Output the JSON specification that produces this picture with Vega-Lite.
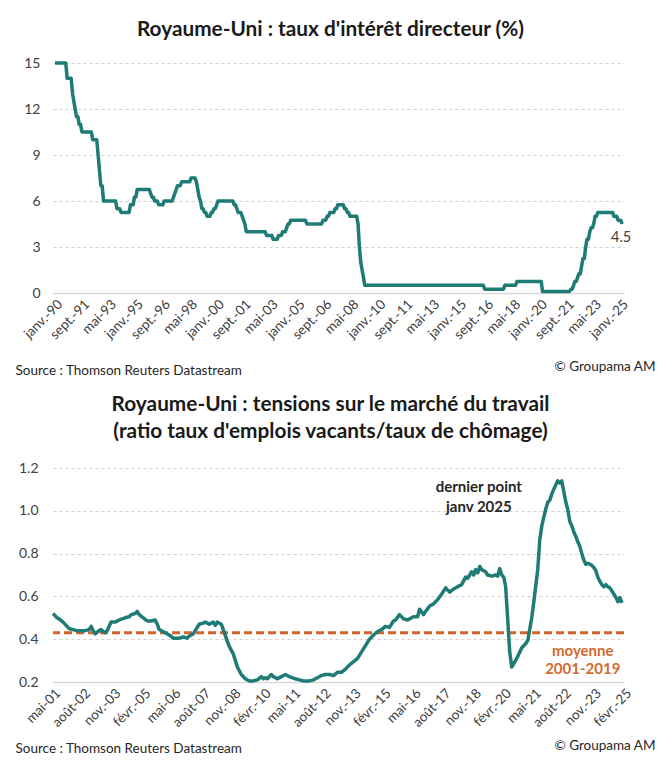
{
  "$schema": "https://vega.github.io/schema/vega-lite/v6.json",
  "background": "white",
  "autosize": "pad",
  "padding": {"left": 15, "top": 19, "right": 10, "bottom": 12},
  "spacing": 175,
  "bounds": "flush",
  "config": {
    "font": "Lato",
    "view": {"stroke": null},
    "axisX": {"labelAngle": -45, "labelFontSize": 13.5, "labelColor": "#404040", "labelOverlap": false, "labelBound": false, "labelFlush": false, "tickCount": 60, "ticks": false, "domain": true, "domainColor": "#D9D9D9", "domainWidth": 1.5, "grid": false, "labelPadding": 4, "titleFontSize": 13.5, "titleFontWeight": "normal", "titleColor": "#262626", "titleAnchor": "start", "titleAlign": "left", "titleBaseline": "middle"},
    "axisY": {"grid": true, "gridColor": "#D0D0D0", "gridDash": [3, 3], "gridWidth": 1, "domain": false, "ticks": false, "labelFontSize": 14, "labelColor": "#404040", "titleFontSize": 13.5, "titleFontWeight": "normal", "titleColor": "#262626", "titleAngle": 0, "titleAlign": "right", "titleBaseline": "middle"}
  },
  "datasets": {
    "rate": [
      {"date": "1990-01-01", "rate": 15}, {"date": "1990-09-01", "rate": 15}, {"date": "1990-10-01", "rate": 14},
      {"date": "1991-01-01", "rate": 14}, {"date": "1991-02-01", "rate": 13}, {"date": "1991-03-01", "rate": 12.5},
      {"date": "1991-04-01", "rate": 12}, {"date": "1991-05-01", "rate": 11.5}, {"date": "1991-06-01", "rate": 11.5},
      {"date": "1991-07-01", "rate": 11}, {"date": "1991-08-01", "rate": 11}, {"date": "1991-09-01", "rate": 10.5},
      {"date": "1992-04-01", "rate": 10.5}, {"date": "1992-05-01", "rate": 10}, {"date": "1992-08-01", "rate": 10},
      {"date": "1992-09-01", "rate": 9}, {"date": "1992-10-01", "rate": 8}, {"date": "1992-11-01", "rate": 7},
      {"date": "1992-12-01", "rate": 7}, {"date": "1993-01-01", "rate": 6}, {"date": "1993-10-01", "rate": 6},
      {"date": "1993-11-01", "rate": 5.5}, {"date": "1994-01-01", "rate": 5.5}, {"date": "1994-02-01", "rate": 5.25},
      {"date": "1994-08-01", "rate": 5.25}, {"date": "1994-09-01", "rate": 5.75}, {"date": "1994-11-01", "rate": 5.75},
      {"date": "1994-12-01", "rate": 6.25}, {"date": "1995-01-01", "rate": 6.25}, {"date": "1995-02-01", "rate": 6.75},
      {"date": "1995-11-01", "rate": 6.75}, {"date": "1995-12-01", "rate": 6.5}, {"date": "1996-01-01", "rate": 6.25},
      {"date": "1996-02-01", "rate": 6.25}, {"date": "1996-03-01", "rate": 6}, {"date": "1996-05-01", "rate": 6},
      {"date": "1996-06-01", "rate": 5.75}, {"date": "1996-09-01", "rate": 5.75}, {"date": "1996-10-01", "rate": 6},
      {"date": "1997-04-01", "rate": 6}, {"date": "1997-05-01", "rate": 6.25}, {"date": "1997-06-01", "rate": 6.5},
      {"date": "1997-07-01", "rate": 6.75}, {"date": "1997-08-01", "rate": 7}, {"date": "1997-10-01", "rate": 7},
      {"date": "1997-11-01", "rate": 7.25}, {"date": "1998-05-01", "rate": 7.25}, {"date": "1998-06-01", "rate": 7.5},
      {"date": "1998-09-01", "rate": 7.5}, {"date": "1998-10-01", "rate": 7.25}, {"date": "1998-11-01", "rate": 6.75},
      {"date": "1998-12-01", "rate": 6.25}, {"date": "1999-01-01", "rate": 6}, {"date": "1999-02-01", "rate": 5.5},
      {"date": "1999-03-01", "rate": 5.5}, {"date": "1999-04-01", "rate": 5.25}, {"date": "1999-05-01", "rate": 5.25},
      {"date": "1999-06-01", "rate": 5}, {"date": "1999-08-01", "rate": 5}, {"date": "1999-09-01", "rate": 5.25},
      {"date": "1999-10-01", "rate": 5.25}, {"date": "1999-11-01", "rate": 5.5}, {"date": "1999-12-01", "rate": 5.5},
      {"date": "2000-01-01", "rate": 5.75}, {"date": "2000-02-01", "rate": 6}, {"date": "2001-01-01", "rate": 6},
      {"date": "2001-02-01", "rate": 5.75}, {"date": "2001-03-01", "rate": 5.75}, {"date": "2001-04-01", "rate": 5.5},
      {"date": "2001-05-01", "rate": 5.25}, {"date": "2001-07-01", "rate": 5.25}, {"date": "2001-08-01", "rate": 5},
      {"date": "2001-09-01", "rate": 4.75}, {"date": "2001-10-01", "rate": 4.5}, {"date": "2001-11-01", "rate": 4},
      {"date": "2003-01-01", "rate": 4}, {"date": "2003-02-01", "rate": 3.75}, {"date": "2003-06-01", "rate": 3.75},
      {"date": "2003-07-01", "rate": 3.5}, {"date": "2003-10-01", "rate": 3.5}, {"date": "2003-11-01", "rate": 3.75},
      {"date": "2004-01-01", "rate": 3.75}, {"date": "2004-02-01", "rate": 4}, {"date": "2004-04-01", "rate": 4},
      {"date": "2004-05-01", "rate": 4.25}, {"date": "2004-06-01", "rate": 4.5}, {"date": "2004-07-01", "rate": 4.5},
      {"date": "2004-08-01", "rate": 4.75}, {"date": "2005-07-01", "rate": 4.75}, {"date": "2005-08-01", "rate": 4.5},
      {"date": "2006-07-01", "rate": 4.5}, {"date": "2006-08-01", "rate": 4.75}, {"date": "2006-10-01", "rate": 4.75},
      {"date": "2006-11-01", "rate": 5}, {"date": "2006-12-01", "rate": 5}, {"date": "2007-01-01", "rate": 5.25},
      {"date": "2007-04-01", "rate": 5.25}, {"date": "2007-05-01", "rate": 5.5}, {"date": "2007-06-01", "rate": 5.5},
      {"date": "2007-07-01", "rate": 5.75}, {"date": "2007-11-01", "rate": 5.75}, {"date": "2007-12-01", "rate": 5.5},
      {"date": "2008-01-01", "rate": 5.5}, {"date": "2008-02-01", "rate": 5.25}, {"date": "2008-03-01", "rate": 5.25},
      {"date": "2008-04-01", "rate": 5}, {"date": "2008-09-01", "rate": 5}, {"date": "2008-10-01", "rate": 4.5},
      {"date": "2008-11-01", "rate": 3}, {"date": "2008-12-01", "rate": 2}, {"date": "2009-01-01", "rate": 1.5},
      {"date": "2009-02-01", "rate": 1}, {"date": "2009-03-01", "rate": 0.5}, {"date": "2016-07-01", "rate": 0.5},
      {"date": "2016-08-01", "rate": 0.25}, {"date": "2017-10-01", "rate": 0.25}, {"date": "2017-11-01", "rate": 0.5},
      {"date": "2018-07-01", "rate": 0.5}, {"date": "2018-08-01", "rate": 0.75}, {"date": "2020-02-01", "rate": 0.75},
      {"date": "2020-03-01", "rate": 0.1}, {"date": "2021-11-01", "rate": 0.1}, {"date": "2021-12-01", "rate": 0.25},
      {"date": "2022-01-01", "rate": 0.25}, {"date": "2022-02-01", "rate": 0.5}, {"date": "2022-03-01", "rate": 0.75},
      {"date": "2022-04-01", "rate": 0.75}, {"date": "2022-05-01", "rate": 1}, {"date": "2022-06-01", "rate": 1.25},
      {"date": "2022-07-01", "rate": 1.25}, {"date": "2022-08-01", "rate": 1.75}, {"date": "2022-09-01", "rate": 2.25},
      {"date": "2022-10-01", "rate": 2.25}, {"date": "2022-11-01", "rate": 3}, {"date": "2022-12-01", "rate": 3.5},
      {"date": "2023-01-01", "rate": 3.5}, {"date": "2023-02-01", "rate": 4}, {"date": "2023-03-01", "rate": 4.25},
      {"date": "2023-04-01", "rate": 4.25}, {"date": "2023-05-01", "rate": 4.5}, {"date": "2023-06-01", "rate": 5},
      {"date": "2023-07-01", "rate": 5}, {"date": "2023-08-01", "rate": 5.25}, {"date": "2024-07-01", "rate": 5.25},
      {"date": "2024-08-01", "rate": 5}, {"date": "2024-10-01", "rate": 5}, {"date": "2024-11-01", "rate": 4.75},
      {"date": "2025-01-01", "rate": 4.75}, {"date": "2025-02-01", "rate": 4.5}
    ],
    "ratio": [
      {"date": "2001-05-01", "v": 0.52}, {"date": "2001-06-01", "v": 0.51}, {"date": "2001-07-01", "v": 0.5},
      {"date": "2001-08-01", "v": 0.495}, {"date": "2001-10-01", "v": 0.48}, {"date": "2001-12-01", "v": 0.46},
      {"date": "2002-01-01", "v": 0.45}, {"date": "2002-03-01", "v": 0.445}, {"date": "2002-05-01", "v": 0.44},
      {"date": "2002-07-01", "v": 0.44}, {"date": "2002-09-01", "v": 0.44}, {"date": "2002-11-01", "v": 0.445},
      {"date": "2002-12-01", "v": 0.46}, {"date": "2003-01-01", "v": 0.44}, {"date": "2003-02-01", "v": 0.425},
      {"date": "2003-04-01", "v": 0.44}, {"date": "2003-05-01", "v": 0.445}, {"date": "2003-07-01", "v": 0.43},
      {"date": "2003-08-01", "v": 0.44}, {"date": "2003-10-01", "v": 0.48}, {"date": "2003-12-01", "v": 0.48},
      {"date": "2004-02-01", "v": 0.49}, {"date": "2004-05-01", "v": 0.5}, {"date": "2004-07-01", "v": 0.505},
      {"date": "2004-08-01", "v": 0.515}, {"date": "2004-10-01", "v": 0.52}, {"date": "2004-11-01", "v": 0.53},
      {"date": "2004-12-01", "v": 0.515}, {"date": "2005-02-01", "v": 0.5}, {"date": "2005-04-01", "v": 0.485},
      {"date": "2005-06-01", "v": 0.485}, {"date": "2005-08-01", "v": 0.49}, {"date": "2005-09-01", "v": 0.47},
      {"date": "2005-10-01", "v": 0.445}, {"date": "2006-01-01", "v": 0.43}, {"date": "2006-03-01", "v": 0.42},
      {"date": "2006-05-01", "v": 0.405}, {"date": "2006-08-01", "v": 0.405}, {"date": "2006-10-01", "v": 0.41},
      {"date": "2006-12-01", "v": 0.405}, {"date": "2007-01-01", "v": 0.415}, {"date": "2007-03-01", "v": 0.425},
      {"date": "2007-04-01", "v": 0.44}, {"date": "2007-06-01", "v": 0.47}, {"date": "2007-08-01", "v": 0.475},
      {"date": "2007-09-01", "v": 0.48}, {"date": "2007-11-01", "v": 0.47}, {"date": "2008-01-01", "v": 0.48},
      {"date": "2008-02-01", "v": 0.465}, {"date": "2008-03-01", "v": 0.48}, {"date": "2008-05-01", "v": 0.47},
      {"date": "2008-06-01", "v": 0.445}, {"date": "2008-08-01", "v": 0.39}, {"date": "2008-09-01", "v": 0.365},
      {"date": "2008-11-01", "v": 0.33}, {"date": "2009-01-01", "v": 0.27}, {"date": "2009-03-01", "v": 0.235},
      {"date": "2009-05-01", "v": 0.215}, {"date": "2009-07-01", "v": 0.205}, {"date": "2009-09-01", "v": 0.205},
      {"date": "2009-11-01", "v": 0.21}, {"date": "2010-01-01", "v": 0.225}, {"date": "2010-02-01", "v": 0.215},
      {"date": "2010-03-01", "v": 0.22}, {"date": "2010-04-01", "v": 0.215}, {"date": "2010-06-01", "v": 0.235},
      {"date": "2010-07-01", "v": 0.225}, {"date": "2010-09-01", "v": 0.215}, {"date": "2010-11-01", "v": 0.225},
      {"date": "2011-01-01", "v": 0.235}, {"date": "2011-03-01", "v": 0.225}, {"date": "2011-06-01", "v": 0.215},
      {"date": "2011-08-01", "v": 0.21}, {"date": "2011-10-01", "v": 0.205}, {"date": "2012-01-01", "v": 0.205},
      {"date": "2012-03-01", "v": 0.21}, {"date": "2012-05-01", "v": 0.22}, {"date": "2012-07-01", "v": 0.23},
      {"date": "2012-09-01", "v": 0.235}, {"date": "2012-11-01", "v": 0.235}, {"date": "2013-01-01", "v": 0.23},
      {"date": "2013-03-01", "v": 0.245}, {"date": "2013-05-01", "v": 0.245}, {"date": "2013-07-01", "v": 0.26},
      {"date": "2013-09-01", "v": 0.28}, {"date": "2013-11-01", "v": 0.295}, {"date": "2014-01-01", "v": 0.31},
      {"date": "2014-03-01", "v": 0.34}, {"date": "2014-05-01", "v": 0.37}, {"date": "2014-07-01", "v": 0.4},
      {"date": "2014-09-01", "v": 0.42}, {"date": "2014-11-01", "v": 0.435}, {"date": "2015-01-01", "v": 0.445},
      {"date": "2015-03-01", "v": 0.46}, {"date": "2015-05-01", "v": 0.455}, {"date": "2015-07-01", "v": 0.485},
      {"date": "2015-08-01", "v": 0.49}, {"date": "2015-10-01", "v": 0.515}, {"date": "2015-12-01", "v": 0.495},
      {"date": "2016-02-01", "v": 0.49}, {"date": "2016-04-01", "v": 0.5}, {"date": "2016-05-01", "v": 0.505},
      {"date": "2016-07-01", "v": 0.505}, {"date": "2016-08-01", "v": 0.54}, {"date": "2016-10-01", "v": 0.515},
      {"date": "2016-11-01", "v": 0.53}, {"date": "2017-01-01", "v": 0.555}, {"date": "2017-03-01", "v": 0.565},
      {"date": "2017-05-01", "v": 0.585}, {"date": "2017-07-01", "v": 0.61}, {"date": "2017-09-01", "v": 0.64},
      {"date": "2017-11-01", "v": 0.62}, {"date": "2018-01-01", "v": 0.635}, {"date": "2018-03-01", "v": 0.645},
      {"date": "2018-05-01", "v": 0.655}, {"date": "2018-07-01", "v": 0.69}, {"date": "2018-08-01", "v": 0.685},
      {"date": "2018-09-01", "v": 0.7}, {"date": "2018-10-01", "v": 0.715}, {"date": "2018-11-01", "v": 0.7},
      {"date": "2018-12-01", "v": 0.725}, {"date": "2019-01-01", "v": 0.71}, {"date": "2019-02-01", "v": 0.74},
      {"date": "2019-03-01", "v": 0.725}, {"date": "2019-05-01", "v": 0.715}, {"date": "2019-06-01", "v": 0.7},
      {"date": "2019-08-01", "v": 0.695}, {"date": "2019-10-01", "v": 0.7}, {"date": "2019-11-01", "v": 0.695},
      {"date": "2019-12-01", "v": 0.73}, {"date": "2020-01-01", "v": 0.7}, {"date": "2020-02-01", "v": 0.69},
      {"date": "2020-03-01", "v": 0.645}, {"date": "2020-04-01", "v": 0.49}, {"date": "2020-05-01", "v": 0.34},
      {"date": "2020-06-01", "v": 0.27}, {"date": "2020-07-01", "v": 0.285}, {"date": "2020-09-01", "v": 0.32},
      {"date": "2020-11-01", "v": 0.36}, {"date": "2021-01-01", "v": 0.38}, {"date": "2021-02-01", "v": 0.395},
      {"date": "2021-03-01", "v": 0.445}, {"date": "2021-04-01", "v": 0.5}, {"date": "2021-05-01", "v": 0.57},
      {"date": "2021-06-01", "v": 0.65}, {"date": "2021-07-01", "v": 0.725}, {"date": "2021-08-01", "v": 0.865},
      {"date": "2021-09-01", "v": 0.93}, {"date": "2021-10-01", "v": 0.97}, {"date": "2021-11-01", "v": 1.01},
      {"date": "2021-12-01", "v": 1.04}, {"date": "2022-01-01", "v": 1.05}, {"date": "2022-02-01", "v": 1.08},
      {"date": "2022-03-01", "v": 1.1}, {"date": "2022-04-01", "v": 1.12}, {"date": "2022-05-01", "v": 1.14},
      {"date": "2022-06-01", "v": 1.13}, {"date": "2022-07-01", "v": 1.14}, {"date": "2022-08-01", "v": 1.09},
      {"date": "2022-09-01", "v": 1.04}, {"date": "2022-10-01", "v": 1.005}, {"date": "2022-11-01", "v": 0.95},
      {"date": "2022-12-01", "v": 0.93}, {"date": "2023-01-01", "v": 0.9}, {"date": "2023-02-01", "v": 0.88},
      {"date": "2023-03-01", "v": 0.855}, {"date": "2023-04-01", "v": 0.835}, {"date": "2023-05-01", "v": 0.8},
      {"date": "2023-06-01", "v": 0.77}, {"date": "2023-07-01", "v": 0.75}, {"date": "2023-08-01", "v": 0.755},
      {"date": "2023-09-01", "v": 0.75}, {"date": "2023-10-01", "v": 0.745}, {"date": "2023-11-01", "v": 0.735},
      {"date": "2023-12-01", "v": 0.72}, {"date": "2024-01-01", "v": 0.69}, {"date": "2024-02-01", "v": 0.67},
      {"date": "2024-03-01", "v": 0.655}, {"date": "2024-04-01", "v": 0.645}, {"date": "2024-05-01", "v": 0.655},
      {"date": "2024-06-01", "v": 0.645}, {"date": "2024-07-01", "v": 0.64}, {"date": "2024-08-01", "v": 0.625},
      {"date": "2024-09-01", "v": 0.61}, {"date": "2024-10-01", "v": 0.595}, {"date": "2024-11-01", "v": 0.575},
      {"date": "2024-12-01", "v": 0.595}, {"date": "2025-01-01", "v": 0.57}
    ]
  },
  "vconcat": [
    {
      "width": 571,
      "height": 230,
      "title": {"text": "Royaume-Uni : taux d'intérêt directeur (%)", "fontSize": 20.8, "fontWeight": "bold", "color": "#1a1a1a", "anchor": "middle", "baseline": "alphabetic", "offset": -1, "dx": -8},
      "layer": [
        {
          "data": {"name": "rate"},
          "mark": {"type": "line", "color": "#1E7B76", "strokeWidth": 3.5, "strokeJoin": "round"},
          "encoding": {
            "x": {
              "field": "date", "type": "temporal",
              "scale": {"type": "utc", "domain": [{"year": 1989, "month": 11, "date": 16, "utc": true}, {"year": 2025, "month": 3, "date": 16, "utc": true}]},
              "axis": {
                "labelOverlap": false, "labelBound": false, "labelFlush": false, "tickCount": 60,
                "title": "Source : Thomson Reuters Datastream", "titleX": -38, "titleY": 77,
                "values": [
                  {"year": 1990, "month": 1, "date": 1, "utc": true}, {"year": 1991, "month": 9, "date": 1, "utc": true},
                  {"year": 1993, "month": 5, "date": 1, "utc": true}, {"year": 1995, "month": 1, "date": 1, "utc": true},
                  {"year": 1996, "month": 9, "date": 1, "utc": true}, {"year": 1998, "month": 5, "date": 1, "utc": true},
                  {"year": 2000, "month": 1, "date": 1, "utc": true}, {"year": 2001, "month": 9, "date": 1, "utc": true},
                  {"year": 2003, "month": 5, "date": 1, "utc": true}, {"year": 2005, "month": 1, "date": 1, "utc": true},
                  {"year": 2006, "month": 9, "date": 1, "utc": true}, {"year": 2008, "month": 5, "date": 1, "utc": true},
                  {"year": 2010, "month": 1, "date": 1, "utc": true}, {"year": 2011, "month": 9, "date": 1, "utc": true},
                  {"year": 2013, "month": 5, "date": 1, "utc": true}, {"year": 2015, "month": 1, "date": 1, "utc": true},
                  {"year": 2016, "month": 9, "date": 1, "utc": true}, {"year": 2018, "month": 5, "date": 1, "utc": true},
                  {"year": 2020, "month": 1, "date": 1, "utc": true}, {"year": 2021, "month": 9, "date": 1, "utc": true},
                  {"year": 2023, "month": 5, "date": 1, "utc": true}, {"year": 2025, "month": 1, "date": 1, "utc": true}
                ],
                "labelExpr": "['janv.','févr.','mars','avr.','mai','juin','juil.','août','sept.','oct.','nov.','déc.'][utcmonth(datum.value)] + '-' + utcFormat(datum.value, '%y')"
              }
            },
            "y": {
              "field": "rate", "type": "quantitative",
              "scale": {"domain": [0, 15], "nice": false, "zero": false},
              "axis": {"values": [0, 3, 6, 9, 12, 15], "labelPadding": 13, "title": "© Groupama AM", "titleX": 602, "titleY": 303}
            }
          }
        },
        {
          "data": {"values": [{"date": "2025-01-10", "rate": 3.6, "label": "4.5"}]},
          "mark": {"type": "text", "fontSize": 14.5, "color": "#404040", "align": "center", "baseline": "middle"},
          "encoding": {
            "x": {"field": "date", "type": "temporal"},
            "y": {"field": "rate", "type": "quantitative", "scale": {"domain": [0, 15], "nice": false, "zero": false}},
            "text": {"field": "label"}
          }
        }
      ]
    },
    {
      "width": 571,
      "height": 214,
      "title": {"text": ["Royaume-Uni : tensions sur le marché du travail", "(ratio taux d'emplois vacants/taux de chômage)"], "fontSize": 20.8, "fontWeight": "bold", "color": "#1a1a1a", "anchor": "middle", "baseline": "alphabetic", "lineHeight": 27, "offset": 2, "dx": -8},
      "layer": [
        {
          "data": {"values": [{"m": 0.43}]},
          "mark": {"type": "rule", "color": "#D2642C", "strokeWidth": 3, "strokeDash": [8, 4]},
          "encoding": {"y": {"field": "m", "type": "quantitative", "scale": {"domain": [0.2, 1.2], "nice": false, "zero": false}}}
        },
        {
          "data": {"name": "ratio"},
          "mark": {"type": "line", "color": "#1E7B76", "strokeWidth": 3.5, "strokeJoin": "round"},
          "encoding": {
            "x": {
              "field": "date", "type": "temporal",
              "scale": {"type": "utc", "domain": [{"year": 2001, "month": 5, "date": 1, "utc": true}, {"year": 2025, "month": 2, "date": 1, "utc": true}]},
              "axis": {
                "labelOverlap": false, "labelBound": false, "labelFlush": false, "tickCount": 60,
                "title": "Source : Thomson Reuters Datastream", "titleX": -38, "titleY": 66,
                "values": [
                  {"year": 2001, "month": 5, "date": 1, "utc": true}, {"year": 2002, "month": 8, "date": 1, "utc": true},
                  {"year": 2003, "month": 11, "date": 1, "utc": true}, {"year": 2005, "month": 2, "date": 1, "utc": true},
                  {"year": 2006, "month": 5, "date": 1, "utc": true}, {"year": 2007, "month": 8, "date": 1, "utc": true},
                  {"year": 2008, "month": 11, "date": 1, "utc": true}, {"year": 2010, "month": 2, "date": 1, "utc": true},
                  {"year": 2011, "month": 5, "date": 1, "utc": true}, {"year": 2012, "month": 8, "date": 1, "utc": true},
                  {"year": 2013, "month": 11, "date": 1, "utc": true}, {"year": 2015, "month": 2, "date": 1, "utc": true},
                  {"year": 2016, "month": 5, "date": 1, "utc": true}, {"year": 2017, "month": 8, "date": 1, "utc": true},
                  {"year": 2018, "month": 11, "date": 1, "utc": true}, {"year": 2020, "month": 2, "date": 1, "utc": true},
                  {"year": 2021, "month": 5, "date": 1, "utc": true}, {"year": 2022, "month": 8, "date": 1, "utc": true},
                  {"year": 2023, "month": 11, "date": 1, "utc": true}, {"year": 2025, "month": 2, "date": 1, "utc": true}
                ],
                "labelExpr": "['janv.','févr.','mars','avr.','mai','juin','juil.','août','sept.','oct.','nov.','déc.'][utcmonth(datum.value)] + '-' + utcFormat(datum.value, '%y')"
              }
            },
            "y": {
              "field": "v", "type": "quantitative",
              "scale": {"domain": [0.2, 1.2], "nice": false, "zero": false},
              "axis": {"values": [0.2, 0.4, 0.6, 0.8, 1.0, 1.2], "format": ".1f", "labelPadding": 15, "title": "© Groupama AM", "titleX": 602, "titleY": 277}
            }
          }
        },
        {
          "data": {"values": [
            {"date": "2019-01-18", "v": 1.109, "label": "dernier point\njanv 2025"}
          ]},
          "mark": {"type": "text", "fontSize": 15, "fontWeight": "bold", "color": "#262626", "align": "center", "baseline": "middle", "lineBreak": "\n", "lineHeight": 20},
          "encoding": {
            "x": {"field": "date", "type": "temporal"},
            "y": {"field": "v", "type": "quantitative", "scale": {"domain": [0.2, 1.2], "nice": false, "zero": false}},
            "text": {"field": "label"}
          }
        },
        {
          "data": {"values": [
            {"date": "2023-05-16", "v": 0.343, "label": "moyenne\n2001-2019"}
          ]},
          "mark": {"type": "text", "fontSize": 15, "fontWeight": "bold", "color": "#D46A2F", "align": "center", "baseline": "middle", "lineBreak": "\n", "lineHeight": 18},
          "encoding": {
            "x": {"field": "date", "type": "temporal"},
            "y": {"field": "v", "type": "quantitative", "scale": {"domain": [0.2, 1.2], "nice": false, "zero": false}},
            "text": {"field": "label"}
          }
        }
      ]
    }
  ]
}
